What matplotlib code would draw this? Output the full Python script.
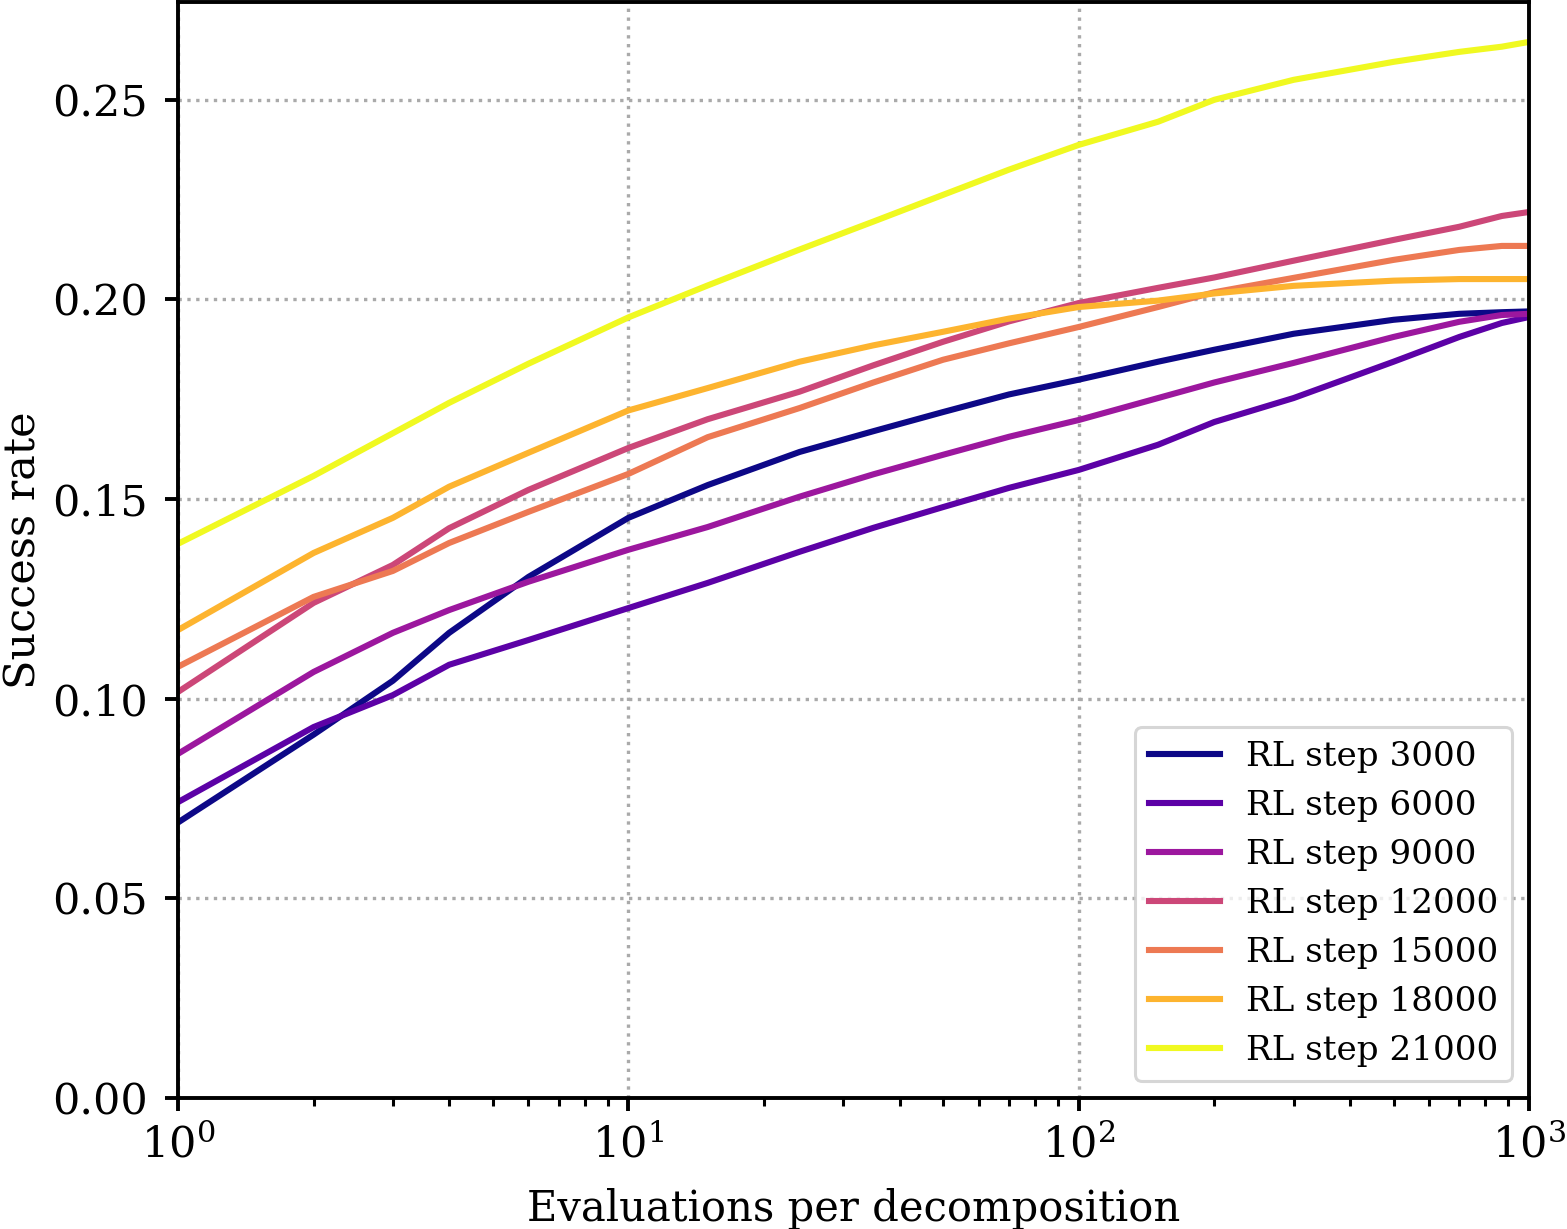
import numpy as np
import matplotlib
matplotlib.use("Agg")
import matplotlib.pyplot as plt

plt.rcParams['font.family'] = 'DejaVu Serif'

# evaluations per decomposition (x positions the curves were read at)
k = [1, 2, 3, 4, 6, 10, 15, 24, 35, 50, 70, 100, 150, 200, 300, 500, 700, 870, 1000]

steps = [3000, 6000, 9000, 12000, 15000, 18000, 21000]

# success rate per RL step
rl3000 = [0.0690, 0.0910, 0.1045, 0.1165, 0.1305, 0.1453, 0.1535, 0.1618, 0.1670, 0.1718,
          0.1762, 0.1799, 0.1844, 0.1874, 0.1914, 0.1949, 0.1964, 0.1968, 0.1970]
rl6000 = [0.0741, 0.0929, 0.1009, 0.1085, 0.1147, 0.1227, 0.1290, 0.1368, 0.1428, 0.1480,
          0.1528, 0.1573, 0.1636, 0.1693, 0.1753, 0.1844, 0.1906, 0.1941, 0.1956]
rl9000 = [0.0862, 0.1067, 0.1165, 0.1222, 0.1293, 0.1373, 0.1430, 0.1506, 0.1562, 0.1611,
          0.1656, 0.1698, 0.1753, 0.1792, 0.1841, 0.1906, 0.1944, 0.1961, 0.1964]
rl12000 = [0.1017, 0.1240, 0.1335, 0.1427, 0.1523, 0.1628, 0.1700, 0.1769, 0.1835, 0.1894,
           0.1945, 0.1991, 0.2029, 0.2055, 0.2097, 0.2149, 0.2182, 0.2209, 0.2219]
rl15000 = [0.1080, 0.1255, 0.1320, 0.1390, 0.1468, 0.1563, 0.1655, 0.1728, 0.1792, 0.1849,
           0.1890, 0.1931, 0.1981, 0.2018, 0.2054, 0.2099, 0.2124, 0.2134, 0.2134]
rl18000 = [0.1172, 0.1365, 0.1453, 0.1531, 0.1616, 0.1722, 0.1778, 0.1844, 0.1885, 0.1919,
           0.1952, 0.1981, 0.1997, 0.2015, 0.2034, 0.2047, 0.2051, 0.2051, 0.2051]
rl21000 = [0.1388, 0.1558, 0.1665, 0.1741, 0.1839, 0.1955, 0.2035, 0.2125, 0.2195, 0.2262,
           0.2325, 0.2387, 0.2445, 0.2500, 0.2550, 0.2595, 0.2620, 0.2633, 0.2645]

curves = [rl3000, rl6000, rl9000, rl12000, rl15000, rl18000, rl21000]
colors = plt.cm.plasma(np.linspace(0, 1, len(steps)))

fig = plt.figure(figsize=(7.835, 6.145), dpi=200)
ax = fig.add_axes([0.1136, 0.1066, 0.8622, 0.8918])

for s, y, c in zip(steps, curves, colors):
    ax.plot(k, y, color=c, lw=2.2, label="RL step {}".format(s))

ax.set_xscale('log')
ax.set_xlim(1, 1000)
ax.set_ylim(0, 0.2745)
ax.grid(True, which='major', linestyle=':', color='#aaaaaa', lw=1.2)
ax.tick_params(labelsize=15.5, width=1.4, length=4.7)
ax.tick_params(axis='y', pad=6)
ax.tick_params(axis='x', pad=5)
ax.tick_params(which='minor', width=1.1, length=2.7)
for sp in ax.spines.values():
    sp.set_linewidth(1.4)
ax.set_xlabel("Evaluations per decomposition", fontsize=15)
ax.xaxis.set_label_coords(0.5, -0.082)
ax.set_ylabel("Success rate", fontsize=15.5)
ax.yaxis.set_label_coords(-0.0985, 0.5)
leg = ax.legend(loc='lower right', fontsize=12.3, handlelength=2.1, handletextpad=0.75)
leg.get_frame().set_linewidth(1.1)

fig.savefig("out.png", dpi=200)
